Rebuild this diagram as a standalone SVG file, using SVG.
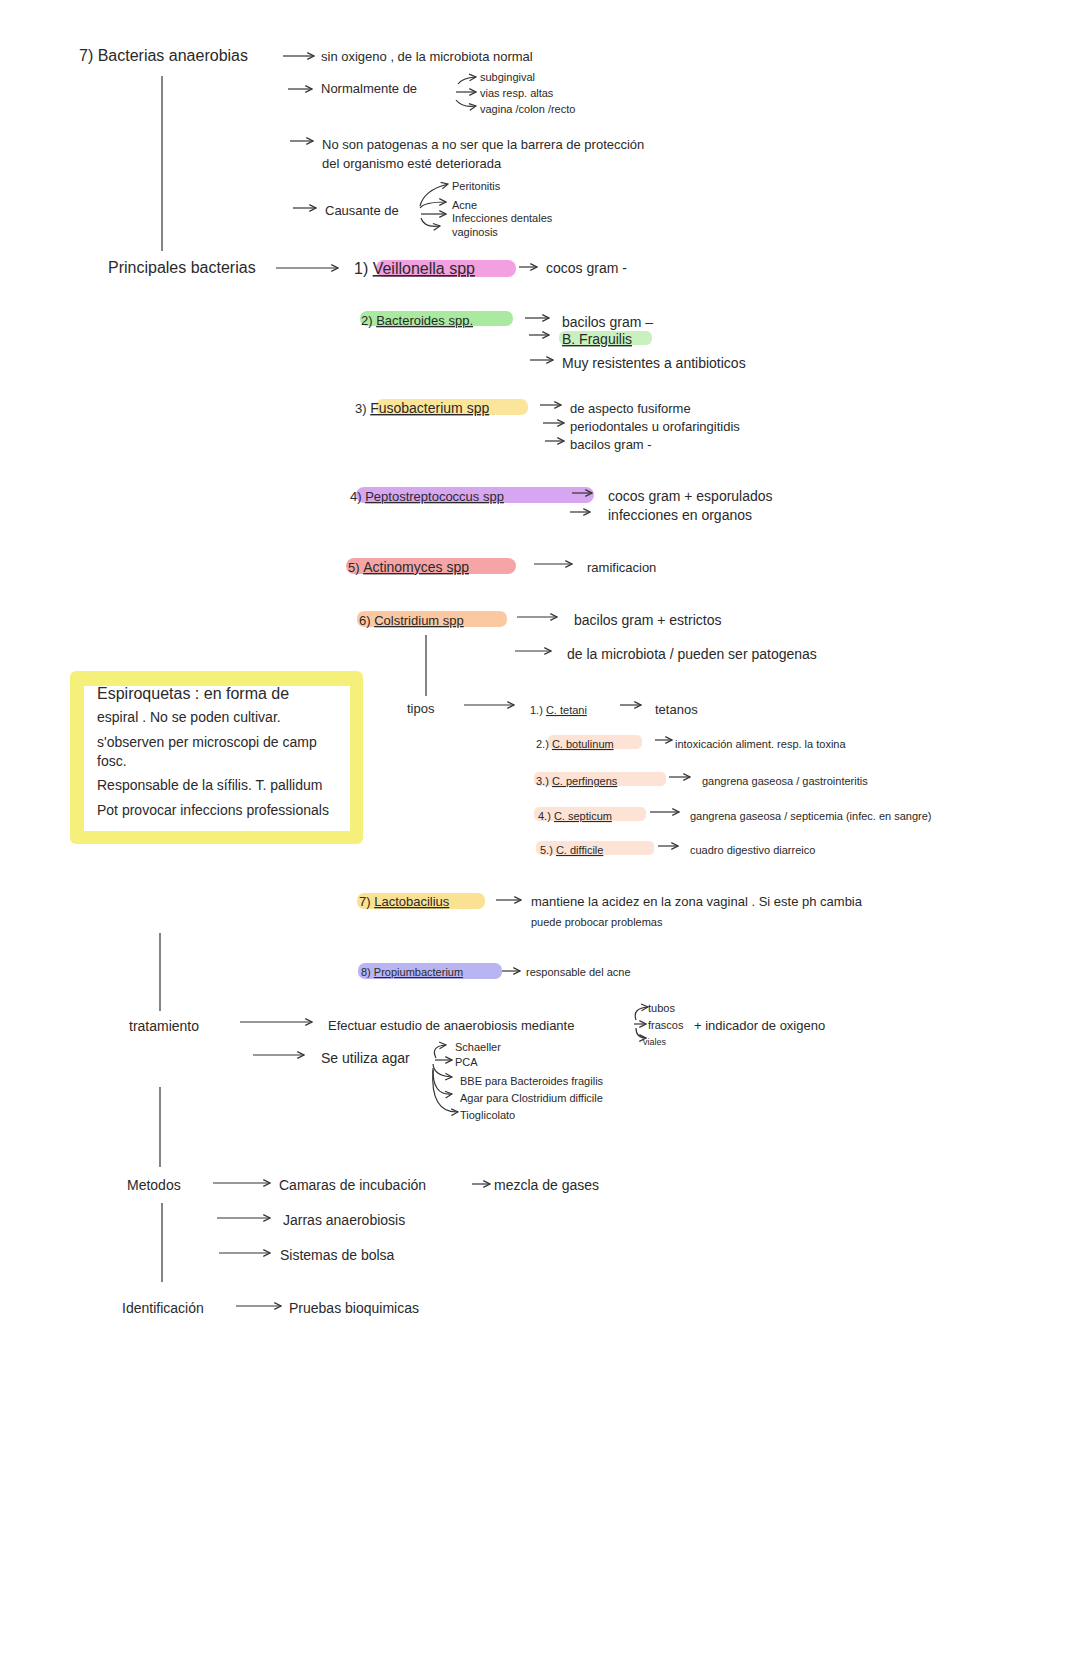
<svg xmlns="http://www.w3.org/2000/svg" width="1080" height="1669" viewBox="0 0 1080 1669">
<defs>
<marker id="ah" viewBox="0 0 10 10" refX="9" refY="5" markerWidth="7" markerHeight="7" orient="auto"><path d="M1,1 L9,5 L1,9" fill="none" stroke="#333" stroke-width="1.4"/></marker>
<style>
text{font-family:"Liberation Sans","DejaVu Sans",sans-serif;fill:#2a2a2a;font-size:13px}
.b{font-size:16px}
.m{font-size:14px}
.s{font-size:11px}
.u{text-decoration:underline}
.c line,.c path{stroke:#333;stroke-width:1.2;fill:none;marker-end:url(#ah)}
.v{stroke:#333;stroke-width:1.2}
</style>
</defs>
<rect width="1080" height="1669" fill="#fff"/>
<g id="highlights">
<rect x="376" y="260" width="140" height="17" rx="8" fill="#f2a0df"/>
<rect x="360" y="311" width="153" height="15" rx="7" fill="#a9eaa0"/>
<rect x="559" y="331" width="93" height="14" rx="6" fill="#c9f1bf"/>
<rect x="376" y="399" width="152" height="16" rx="7" fill="#fbe59a"/>
<rect x="356" y="487" width="238" height="16" rx="8" fill="#d7a6f0"/>
<rect x="346" y="558" width="170" height="16" rx="8" fill="#f5a5a5"/>
<rect x="357" y="611" width="150" height="16" rx="7" fill="#fbc8a2"/>
<rect x="548" y="735" width="94" height="14" rx="5" fill="#fde3d5"/>
<rect x="534" y="772" width="132" height="14" rx="5" fill="#fde3d5"/>
<rect x="534" y="807" width="112" height="14" rx="5" fill="#fde3d5"/>
<rect x="536" y="841" width="118" height="14" rx="5" fill="#fde3d5"/>
<rect x="357" y="893" width="128" height="16" rx="7" fill="#fbe292"/>
<rect x="358" y="963" width="144" height="16" rx="7" fill="#b9b5f3"/>
</g>
<g id="note">
<rect x="70" y="671" width="293" height="173" rx="6" fill="#f5f07a"/>
<rect x="84" y="686" width="266" height="145" fill="#fff"/>
<text x="97" y="699" class="b">Espiroquetas : en forma de</text>
<text x="97" y="722" class="m">espiral . No se poden cultivar.</text>
<text x="97" y="747" class="m">s'observen per microscopi de camp</text>
<text x="97" y="766" class="m">fosc.</text>
<text x="97" y="790" class="m">Responsable de la sífilis. T. pallidum</text>
<text x="97" y="815" class="m">Pot provocar infeccions professionals</text>
</g>
<g id="connectors" class="c">
<line class="v" x1="162" y1="76" x2="162" y2="251" style="marker-end:none"/>
<line x1="283" y1="56" x2="314" y2="56"/>
<line x1="288" y1="89" x2="312" y2="89"/>
<path d="M458,84 Q462,78 476,77"/>
<line x1="456" y1="92" x2="476" y2="92"/>
<path d="M456,100 Q462,108 476,106"/>
<line x1="290" y1="141" x2="313" y2="141"/>
<line x1="293" y1="208" x2="316" y2="208"/>
<path d="M420,206 Q424,190 448,184"/>
<path d="M420,208 Q424,202 446,202"/>
<line x1="421" y1="214" x2="446" y2="214"/>
<path d="M421,218 Q424,228 440,226"/>
<line x1="276" y1="268" x2="338" y2="268"/>
<line x1="519" y1="267" x2="537" y2="267"/>
<line x1="525" y1="318" x2="549" y2="318"/>
<line x1="529" y1="335" x2="549" y2="335"/>
<line x1="530" y1="360" x2="553" y2="360"/>
<line x1="540" y1="405" x2="561" y2="405"/>
<line x1="543" y1="423" x2="564" y2="423"/>
<line x1="545" y1="441" x2="564" y2="441"/>
<line x1="572" y1="493" x2="592" y2="493"/>
<line x1="570" y1="512" x2="590" y2="512"/>
<line x1="534" y1="564" x2="572" y2="564"/>
<line x1="517" y1="617" x2="557" y2="617"/>
<line x1="515" y1="651" x2="551" y2="651"/>
<line class="v" x1="426" y1="635" x2="426" y2="696" style="marker-end:none"/>
<line x1="464" y1="705" x2="514" y2="705"/>
<line x1="620" y1="705" x2="641" y2="705"/>
<line x1="655" y1="740" x2="672" y2="740"/>
<line x1="669" y1="777" x2="690" y2="777"/>
<line x1="650" y1="812" x2="679" y2="812"/>
<line x1="658" y1="846" x2="678" y2="846"/>
<line x1="496" y1="900" x2="521" y2="900"/>
<line x1="502" y1="971" x2="520" y2="971"/>
<line class="v" x1="160" y1="933" x2="160" y2="1011" style="marker-end:none"/>
<line x1="240" y1="1022" x2="312" y2="1022"/>
<path d="M636,1020 Q632,1008 648,1007"/>
<line x1="634" y1="1024" x2="646" y2="1024"/>
<path d="M636,1028 Q636,1038 646,1038"/>
<line x1="253" y1="1055" x2="304" y2="1055"/>
<path d="M436,1058 Q430,1046 446,1045"/>
<line x1="435" y1="1060" x2="452" y2="1060"/>
<path d="M433,1064 Q434,1076 452,1077"/>
<path d="M433,1068 Q432,1096 452,1094"/>
<path d="M433,1070 Q430,1113 458,1112"/>
<line class="v" x1="160" y1="1087" x2="160" y2="1167" style="marker-end:none"/>
<line x1="213" y1="1183" x2="270" y2="1183"/>
<line x1="472" y1="1184" x2="490" y2="1184"/>
<line x1="217" y1="1218" x2="270" y2="1218"/>
<line x1="219" y1="1253" x2="270" y2="1253"/>
<line class="v" x1="162" y1="1203" x2="162" y2="1282" style="marker-end:none"/>
<line x1="236" y1="1306" x2="281" y2="1306"/>
</g>
<g id="n-main"><text x="79" y="61" class="b">7) Bacterias anaerobias</text></g>
<g id="n-sinox"><text x="321" y="61">sin oxigeno , de la microbiota normal</text></g>
<g id="n-normal"><text x="321" y="93">Normalmente de</text>
<text x="480" y="81" class="s">subgingival</text><text x="480" y="97" class="s">vias resp. altas</text><text x="480" y="113" class="s">vagina /colon /recto</text></g>
<g id="n-nopat"><text x="322" y="149">No son patogenas a no ser que la barrera de protección</text><text x="322" y="168">del organismo esté deteriorada</text></g>
<g id="n-causante"><text x="325" y="215">Causante de</text>
<text x="452" y="190" class="s">Peritonitis</text><text x="452" y="209" class="s">Acne</text><text x="452" y="222" class="s">Infecciones dentales</text><text x="452" y="236" class="s">vaginosis</text></g>
<g id="n-principales"><text x="108" y="273" class="b">Principales bacterias</text></g>
<g id="n-1"><text x="354" y="274" class="b">1) <tspan class="u">Veillonella spp</tspan></text><text x="546" y="273" class="m">cocos gram -</text></g>
<g id="n-2"><text x="361" y="325">2) <tspan class="u">Bacteroides spp.</tspan></text>
<text x="562" y="327" class="m">bacilos gram –</text><text x="562" y="344" class="m u">B. Fraguilis</text><text x="562" y="368" class="m">Muy resistentes a antibioticos</text></g>
<g id="n-3"><text x="355" y="413">3) <tspan class="u m">Fusobacterium spp</tspan></text>
<text x="570" y="413">de aspecto fusiforme</text><text x="570" y="431">periodontales u orofaringitidis</text><text x="570" y="449">bacilos gram -</text></g>
<g id="n-4"><text x="350" y="501">4) <tspan class="u">Peptostreptococcus spp</tspan></text>
<text x="608" y="501" class="m">cocos gram + esporulados</text><text x="608" y="520" class="m">infecciones en organos</text></g>
<g id="n-5"><text x="348" y="572">5) <tspan class="u m">Actinomyces spp</tspan></text><text x="587" y="572">ramificacion</text></g>
<g id="n-6"><text x="359" y="625">6) <tspan class="u">Colstridium spp</tspan></text>
<text x="574" y="625" class="m">bacilos gram + estrictos</text><text x="567" y="659" class="m">de la microbiota / pueden ser patogenas</text></g>
<g id="n-tipos"><text x="407" y="713">tipos</text>
<text x="530" y="714" class="s">1.) <tspan class="u">C. tetani</tspan></text><text x="655" y="714">tetanos</text>
<text x="536" y="748" class="s">2.) <tspan class="u">C. botulinum</tspan></text><text x="675" y="748" class="s">intoxicación aliment. resp. la toxina</text>
<text x="536" y="785" class="s">3.) <tspan class="u">C. perfingens</tspan></text><text x="702" y="785" class="s">gangrena gaseosa / gastrointeritis</text>
<text x="538" y="820" class="s">4.) <tspan class="u">C. septicum</tspan></text><text x="690" y="820" class="s">gangrena gaseosa / septicemia (infec. en sangre)</text>
<text x="540" y="854" class="s">5.) <tspan class="u">C. difficile</tspan></text><text x="690" y="854" class="s">cuadro digestivo diarreico</text></g>
<g id="n-7"><text x="359" y="906">7) <tspan class="u">Lactobacilius</tspan></text>
<text x="531" y="906">mantiene la acidez en la zona vaginal . Si este ph cambia</text><text x="531" y="926" class="s">puede probocar problemas</text></g>
<g id="n-8"><text x="361" y="976" class="s">8) <tspan class="u">Propiumbacterium</tspan></text><text x="526" y="976" class="s">responsable del acne</text></g>
<g id="n-trat"><text x="129" y="1031" class="m">tratamiento</text>
<text x="328" y="1030">Efectuar estudio de anaerobiosis mediante</text>
<text x="648" y="1012" class="s">tubos</text><text x="648" y="1029" class="s">frascos</text><text x="643" y="1045" class="s" style="font-size:9px">viales</text>
<text x="694" y="1030">+ indicador de oxigeno</text></g>
<g id="n-agar"><text x="321" y="1063" class="m">Se utiliza agar</text>
<text x="455" y="1051" class="s">Schaeller</text><text x="455" y="1066" class="s">PCA</text><text x="460" y="1085" class="s">BBE para Bacteroides fragilis</text><text x="460" y="1102" class="s">Agar para Clostridium difficile</text><text x="460" y="1119" class="s">Tioglicolato</text></g>
<g id="n-metodos"><text x="127" y="1190" class="m">Metodos</text>
<text x="279" y="1190" class="m">Camaras de incubación</text><text x="494" y="1190" class="m">mezcla de gases</text>
<text x="283" y="1225" class="m">Jarras anaerobiosis</text><text x="280" y="1260" class="m">Sistemas de bolsa</text></g>
<g id="n-ident"><text x="122" y="1313" class="m">Identificación</text><text x="289" y="1313" class="m">Pruebas bioquimicas</text></g>
</svg>
